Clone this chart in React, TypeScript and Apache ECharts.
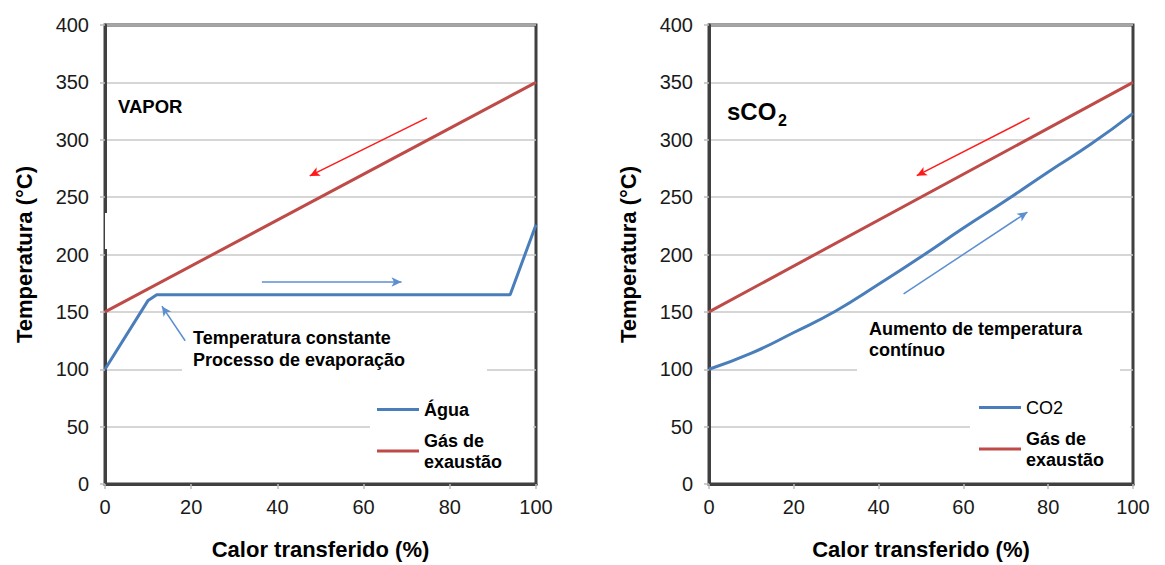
import React, { useEffect, useRef } from "react";
import * as echarts from "echarts";

// ---------- data ----------
const xTickValues = [0, 20, 40, 60, 80, 100];
const yTickValues = [0, 50, 100, 150, 200, 250, 300, 350, 400];

// VAPOR chart
const aguaX = [0, 10, 12, 94, 100];
const aguaY = [100, 160, 165, 165, 226];
const gasVaporX = [0, 100];
const gasVaporY = [150, 350];

// sCO2 chart
const co2X = [0, 10, 20, 30, 40, 50, 60, 70, 80, 90, 100];
const co2Y = [100, 114, 132, 151, 174, 198, 223, 247, 272, 296, 323];
const gasCo2X = [0, 100];
const gasCo2Y = [150, 350];

// annotation arrows (data coordinates: [from, to])
const vaporRedArrow = [[74.7, 319], [47.5, 268.5]];
const vaporBlueArrow = [[36.4, 176], [68.8, 176]];
const vaporPointer = [[18.6, 124.8], [13.2, 155]];
const co2RedArrow = [[75.6, 319], [49, 268.7]];
const co2BlueArrow = [[45.9, 165.7], [75.1, 237]];

const labels = {
  xName: "Calor transferido (%)",
  yName: "Temperatura (°C)",
  agua: "Água",
  co2: "CO2",
  gas: "Gás de exaustão",
  vapor: "VAPOR",
  vaporNote1: "Temperatura constante",
  vaporNote2: "Processo de evaporação",
  co2Note1: "Aumento de temperatura",
  co2Note2: "contínuo",
};

const FONT = '"Liberation Sans", Arial, sans-serif';
const BLUE = "#4A7EBB";
const RED = "#BE4B48";
const ARROW_RED = "#FF1A1A";
const ARROW_BLUE = "#5B8FCF";

const zip = (xs: number[], ys: number[]) => xs.map((x, i) => [x, ys[i]]);

const arrow = (pts: number[][], color: string) => ({
  silent: true,
  symbol: ["none", "arrow"],
  symbolSize: [7, 10],
  label: { show: false },
  emphasis: { disabled: true },
  lineStyle: { color, width: 1.5, type: "solid" },
  data: [[{ coord: pts[0] }, { coord: pts[1] }]],
});

function xAxisOpt(gridIndex: number) {
  return {
    type: "value",
    gridIndex,
    min: xTickValues[0],
    max: xTickValues[xTickValues.length - 1],
    interval: xTickValues[1] - xTickValues[0],
    name: labels.xName,
    nameLocation: "middle",
    nameGap: 54,
    nameTextStyle: { fontFamily: FONT, fontSize: 22, fontWeight: "bold", color: "#000" },
    axisLine: { show: true, onZero: false, lineStyle: { color: "#404040", width: 3 } },
    axisTick: { show: true, inside: false, length: 5, lineStyle: { color: "#bdbdbd", width: 1.5 } },
    axisLabel: { fontFamily: FONT, fontSize: 20, color: "#1a1a1a", margin: 13 },
    splitLine: { show: false },
  };
}

function yAxisOpt(gridIndex: number) {
  return {
    type: "value",
    gridIndex,
    min: yTickValues[0],
    max: yTickValues[yTickValues.length - 1],
    interval: yTickValues[1] - yTickValues[0],
    name: labels.yName,
    nameLocation: "middle",
    nameGap: 70,
    nameTextStyle: { fontFamily: FONT, fontSize: 22, fontWeight: "bold", color: "#000" },
    axisLine: { show: true, onZero: false, lineStyle: { color: "#404040", width: 3 } },
    axisTick: { show: true, inside: false, length: 5, lineStyle: { color: "#bdbdbd", width: 1.5 } },
    axisLabel: { fontFamily: FONT, fontSize: 20, color: "#1a1a1a", margin: 16 },
    splitLine: { show: true, lineStyle: { color: "#c9c9c9", width: 1.5 } },
  };
}

const legendCommon = {
  orient: "vertical",
  icon: "rect",
  itemWidth: 42,
  itemHeight: 3,
  itemGap: 10,
  backgroundColor: "#ffffff",
  selectedMode: false,
  textStyle: { fontFamily: FONT, fontSize: 18, fontWeight: "bold", color: "#000", lineHeight: 21 },
  formatter: (name: string) =>
    name === labels.gas ? "Gás de\nexaustão" : name === labels.co2 ? "{n|CO2}" : name,
};

const textEl = (x: number, y: number, text: string, size: number, weight = "bold") => ({
  type: "text",
  x,
  y,
  z: 10,
  silent: true,
  style: {
    text,
    fontFamily: FONT,
    fontSize: size,
    fontWeight: weight,
    fill: "#000",
    verticalAlign: "middle",
    align: "left",
  },
});

const whiteRect = (x: number, y: number, w: number, h: number) => ({
  type: "rect",
  z: 1,
  silent: true,
  shape: { x, y, width: w, height: h },
  style: { fill: "#ffffff" },
});

export default function App() {
  const ref = useRef<HTMLDivElement>(null);

  useEffect(() => {
    document.body.style.margin = "0";
    const chart = echarts.init(ref.current!, null, { renderer: "svg" });
    const option: any = {
      animation: false,
      backgroundColor: "#ffffff",
      grid: [
        { left: 105, top: 25, width: 431, height: 462, show: true, borderColor: "#404040", borderWidth: 3, backgroundColor: "transparent" },
        { left: 709, top: 25, width: 424, height: 463, show: true, borderColor: "#404040", borderWidth: 3, backgroundColor: "transparent" },
      ],
      xAxis: [xAxisOpt(0), xAxisOpt(1)],
      yAxis: [yAxisOpt(0), yAxisOpt(1)],
      legend: [
        {
          ...legendCommon,
          left: 370,
          top: 391,
          padding: [8, 31, 6, 7],
          data: [labels.agua, labels.gas],
        },
        {
          ...legendCommon,
          left: 970,
          top: 389,
          padding: [8, 26, 8, 9],
          data: [labels.co2, labels.gas],
          textStyle: {
            ...legendCommon.textStyle,
            rich: { n: { fontFamily: FONT, fontSize: 18, fontWeight: "normal", color: "#000" } },
          },
        },
      ],
      series: [
        {
          type: "line",
          name: labels.agua,
          xAxisIndex: 0,
          yAxisIndex: 0,
          data: zip(aguaX, aguaY),
          showSymbol: false,
          symbol: "none",
          lineStyle: { color: BLUE, width: 3 },
          itemStyle: { color: BLUE },
          z: 3,
          markLine: { ...arrow(vaporBlueArrow, ARROW_BLUE) },
        },
        {
          type: "line",
          name: labels.gas,
          xAxisIndex: 0,
          yAxisIndex: 0,
          data: zip(gasVaporX, gasVaporY),
          showSymbol: false,
          symbol: "none",
          lineStyle: { color: RED, width: 3 },
          itemStyle: { color: RED },
          z: 3,
          markLine: { ...arrow(vaporRedArrow, ARROW_RED) },
        },
        {
          type: "line",
          name: "pointer",
          xAxisIndex: 0,
          yAxisIndex: 0,
          data: [],
          showSymbol: false,
          symbol: "none",
          markLine: { ...arrow(vaporPointer, ARROW_BLUE) },
        },
        {
          type: "line",
          name: labels.co2,
          xAxisIndex: 1,
          yAxisIndex: 1,
          data: zip(co2X, co2Y),
          showSymbol: false,
          symbol: "none",
          smooth: 0.5,
          lineStyle: { color: BLUE, width: 3 },
          itemStyle: { color: BLUE },
          z: 3,
          markLine: { ...arrow(co2BlueArrow, ARROW_BLUE) },
        },
        {
          type: "line",
          name: labels.gas,
          xAxisIndex: 1,
          yAxisIndex: 1,
          data: zip(gasCo2X, gasCo2Y),
          showSymbol: false,
          symbol: "none",
          lineStyle: { color: RED, width: 3 },
          itemStyle: { color: RED },
          z: 3,
          markLine: { ...arrow(co2RedArrow, ARROW_RED) },
        },
      ],
      graphic: [
        whiteRect(182, 322, 305, 60),
        whiteRect(105, 213, 85, 36),
        whiteRect(857, 318, 263, 64),
        textEl(118, 106, labels.vapor, 18.5),
        textEl(193, 338, labels.vaporNote1, 18),
        textEl(193, 360, labels.vaporNote2, 18),
        textEl(727, 111, "sCO", 24),
        textEl(778, 120, "2", 16),
        textEl(869, 329, labels.co2Note1, 18),
        textEl(869, 350, labels.co2Note2, 18),
      ],
    };
    chart.setOption(option);
    return () => chart.dispose();
  }, []);

  return (
    <div
      ref={ref}
      style={{ position: "absolute", left: 0, top: 0, width: 1165, height: 565, background: "#fff" }}
    />
  );
}
